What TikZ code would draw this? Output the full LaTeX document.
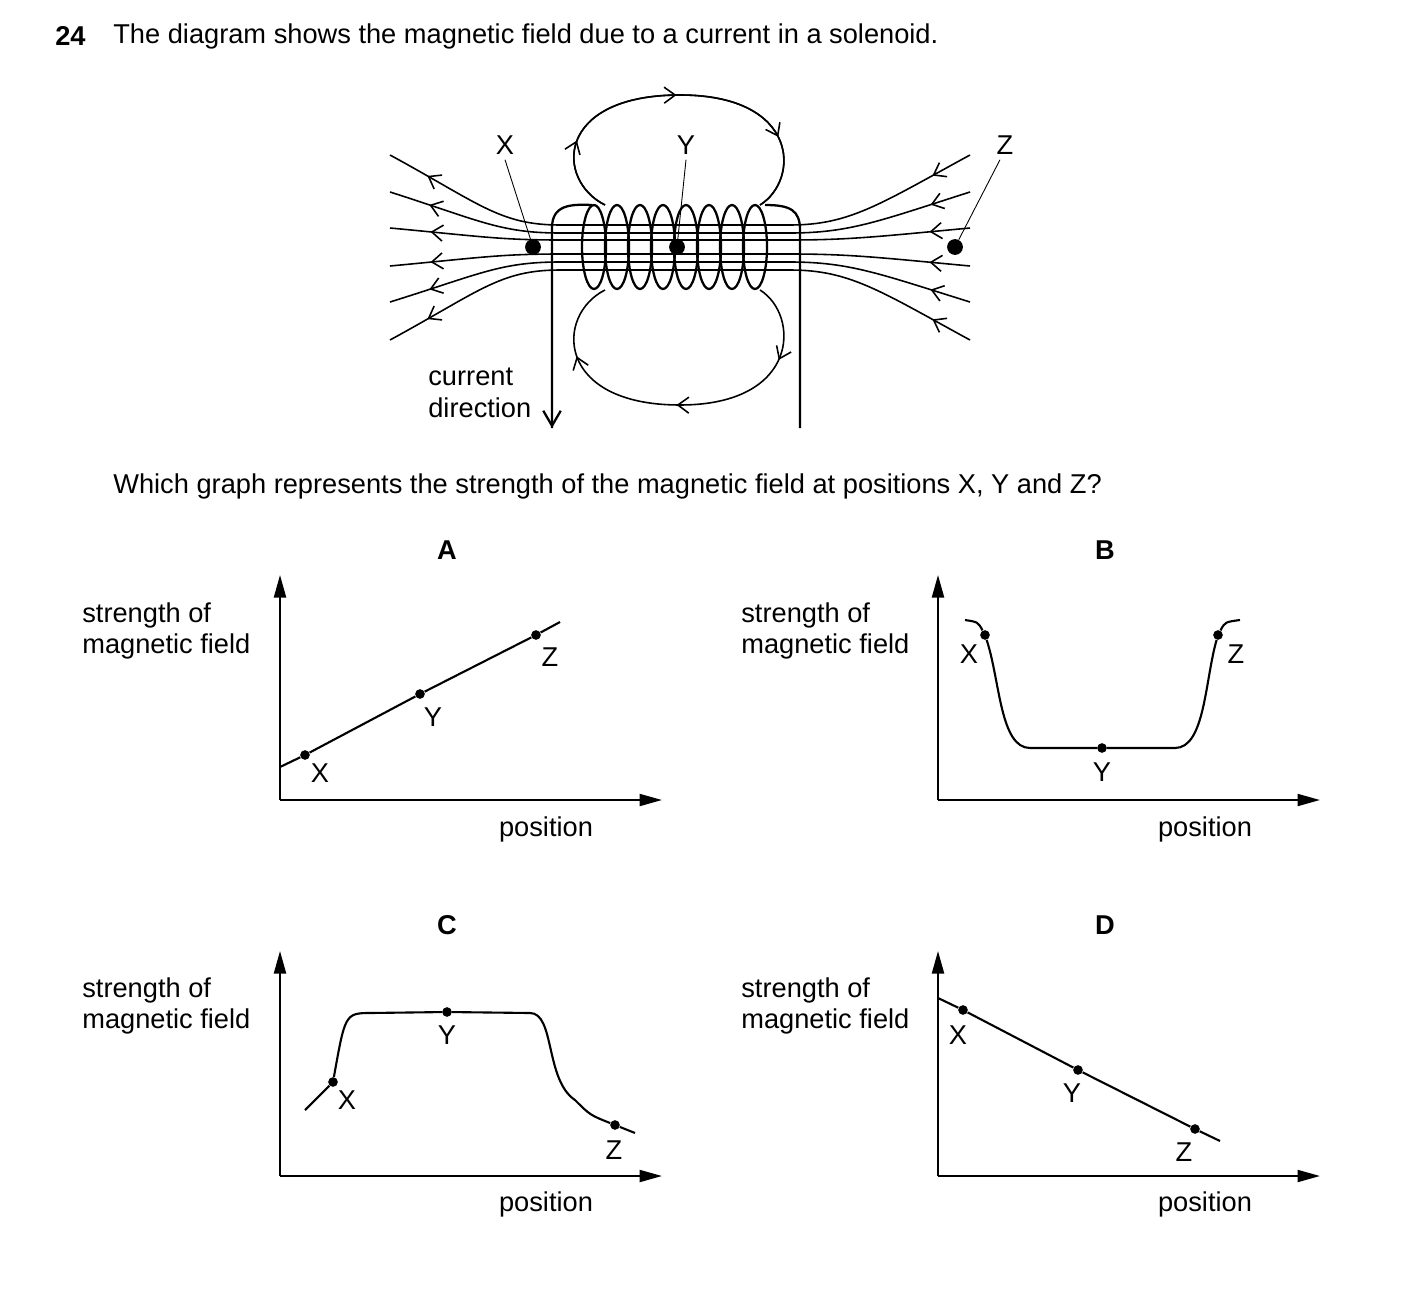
\documentclass[tikz,border=0pt]{standalone}
\usepackage{fontspec}
\setmainfont{Liberation Sans}
\usetikzlibrary{arrows.meta, decorations.markings}

\tikzset{
  txt/.style={font=\fontsize{15.5}{18}\selectfont, inner sep=0pt},
  dot/.style={circle, fill, inner sep=0pt, minimum size=5.5pt},
  bigdot/.style={circle, fill, inner sep=0pt, minimum size=9pt},
  axis/.style={line width=1.2pt, -{Triangle[length=4.5mm,width=2.4mm]}},
  curve/.style={line width=1.2pt},
  field/.style={line width=0.9pt, postaction=decorate, decoration={markings,
      mark=at position 0.07 with {\arrow{Straight Barb[length=2.2mm,width=3.2mm]}},
      mark=at position 0.93 with {\arrow{Straight Barb[length=2.2mm,width=3.2mm]}}}},
  loopln/.style={line width=0.9pt, postaction=decorate, decoration={markings,
      mark=at position #1 with {\arrow{Straight Barb[length=2.2mm,width=3.2mm]}}}},
}
\newcommand{\graphaxes}[2]{% origin x, y
  \draw[axis] (#1,#2) -- (#1,#2-225);
  \draw[axis] (#1,#2) -- (#1+382,#2);
}

\begin{document}
\begin{tikzpicture}[x=0.02cm,y=-0.02cm]
\useasboundingbox (0,0) rectangle (1403,1315);

% question
\node[txt, font=\fontsize{15.5}{18}\selectfont\bfseries, anchor=west] (qnum) at (55,36) {24};
\node[txt, anchor=west] (qtext) at (113,36) {The diagram shows the magnetic field due to a current in a solenoid.};

% field lines
\foreach \yl/\yc in {155/225, 192/233, 228/240, 266/254, 302/262, 340/270}
  \draw[field] (970,\yl) .. controls (880,\yl+0.7*\yc-0.7*\yl) and (850,\yc) .. (790,\yc)
     -- (560,\yc) .. controls (500,\yc) and (480,\yl+0.7*\yc-0.7*\yl) .. (390,\yl);

% loops above and below
\draw[loopln=0.5] (605,205) .. controls (555,180) and (555,95) .. (680,95)
   .. controls (800,95) and (800,180) .. (760,205);
\draw[line width=0.9pt, postaction=decorate, decoration={markings,
   mark=at position 0.2 with {\arrow{Straight Barb[length=2.2mm,width=3.2mm]}},
   mark=at position 0.8 with {\arrow{Straight Barb[length=2.2mm,width=3.2mm]}}}]
   (605,205) .. controls (555,180) and (555,95) .. (680,95)
   .. controls (800,95) and (800,180) .. (760,205);
\draw[line width=0.9pt, postaction=decorate, decoration={markings,
   mark=at position 0.2 with {\arrow{Straight Barb[length=2.2mm,width=3.2mm]}},
   mark=at position 0.5 with {\arrow{Straight Barb[length=2.2mm,width=3.2mm]}},
   mark=at position 0.8 with {\arrow{Straight Barb[length=2.2mm,width=3.2mm]}}}]
   (760,290) .. controls (800,315) and (800,405) .. (680,405)
   .. controls (555,405) and (555,315) .. (605,290);

% solenoid
\foreach \i in {0,...,7}
  \draw[line width=1.3pt] (594+23*\i,247) ellipse [x radius=12, y radius=42];
\coordinate (wl) at (552,428);
\coordinate (wr) at (800,428);
\draw[line width=1.3pt] (wl) -- (552,228) .. controls (552,205) and (570,204) .. (592,205);
\draw[line width=1.3pt] (765,205) .. controls (790,205) and (800,210) .. (800,230) -- (wr);
\draw[line width=1.3pt, -{Straight Barb[length=3mm,width=3.5mm]}] (552,380) -- (wl);
\node[txt, align=left, anchor=north west] (curdir) at (428,368) {current\\direction};

% positions X, Y, Z
\node[bigdot] (px) at (533,247) {};
\node[bigdot] (py) at (677,247) {};
\node[bigdot] (pz) at (955,247) {};
\node[txt] (lx) at (505,145) {X};
\node[txt] (ly) at (686,145) {Y};
\node[txt] (lz) at (1005,145) {Z};
\draw[line width=0.5pt] (lx.south) ++(0,5) -- (px);
\draw[line width=0.5pt] (ly.south) ++(0,5) -- (py);
\draw[line width=0.5pt] (lz.south) ++(-5,5) -- (pz);

\node[txt, anchor=west] (which) at (113,486) {Which graph represents the strength of the magnetic field at positions X, Y and Z?};

% graph A
\node[txt, font=\fontsize{15.5}{18}\selectfont\bfseries] (la) at (447,550) {A};
\graphaxes{280}{800}
\node[txt, align=left, anchor=north west] (sa) at (82,602) {strength of\\magnetic field};
\node[txt] (posa) at (546,829) {position};
\node[dot] (ax) at (305,755) {};
\node[dot] (ay) at (420,694) {};
\node[dot] (az) at (536,635) {};
\draw[curve] (280,767) -- (ax) -- (ay) -- (az) -- (560,622);
\node[txt] at (320,773) {X};
\node[txt] at (433,717) {Y};
\node[txt] at (550,657) {Z};

% graph B
\node[txt, font=\fontsize{15.5}{18}\selectfont\bfseries] (lb) at (1105,550) {B};
\graphaxes{938}{800}
\node[txt, align=left, anchor=north west] (sb) at (741,602) {strength of\\magnetic field};
\node[txt] (posb) at (1205,829) {position};
\node[dot] (bx) at (985,635) {};
\node[dot] (by) at (1102,748) {};
\node[dot] (bz) at (1218,635) {};
\draw[curve] (965,620) .. controls (978,622) .. (bx) .. controls (1000,680) and (1000,748) .. (1030,748)
   -- (by) -- (1175,748) .. controls (1205,748) and (1205,680) .. (bz) .. controls (1225,622) .. (1240,620);
\node[txt] at (969,654) {X};
\node[txt] at (1102,772) {Y};
\node[txt] at (1236,654) {Z};

% graph C
\node[txt, font=\fontsize{15.5}{18}\selectfont\bfseries] (lc) at (447,925) {C};
\graphaxes{280}{1176}
\node[txt, align=left, anchor=north west] (sc) at (82,977) {strength of\\magnetic field};
\node[txt] (posc) at (546,1204) {position};
\node[dot] (cx) at (333,1082) {};
\node[dot] (cy) at (447,1012) {};
\node[dot] (cz) at (615,1125) {};
\draw[curve] (305,1110) .. controls (320,1095) .. (cx) .. controls (345,1015) and (345,1013) .. (370,1013)
   -- (cy) -- (530,1013) .. controls (555,1013) and (545,1080) .. (575,1100)
   .. controls (590,1115) .. (cz) -- (635,1133);
\node[txt] at (347,1100) {X};
\node[txt] at (447,1035) {Y};
\node[txt] at (614,1150) {Z};

% graph D
\node[txt, font=\fontsize{15.5}{18}\selectfont\bfseries] (ld) at (1105,925) {D};
\graphaxes{938}{1176}
\node[txt, align=left, anchor=north west] (sd) at (741,977) {strength of\\magnetic field};
\node[txt] (posd) at (1205,1204) {position};
\node[dot] (dx) at (963,1010) {};
\node[dot] (dy) at (1078,1070) {};
\node[dot] (dz) at (1195,1129) {};
\draw[curve] (938,998) -- (dx) -- (dy) -- (dz) -- (1220,1141);
\node[txt] at (958,1035) {X};
\node[txt] at (1072,1093) {Y};
\node[txt] at (1184,1152) {Z};
\end{tikzpicture}
\end{document}
